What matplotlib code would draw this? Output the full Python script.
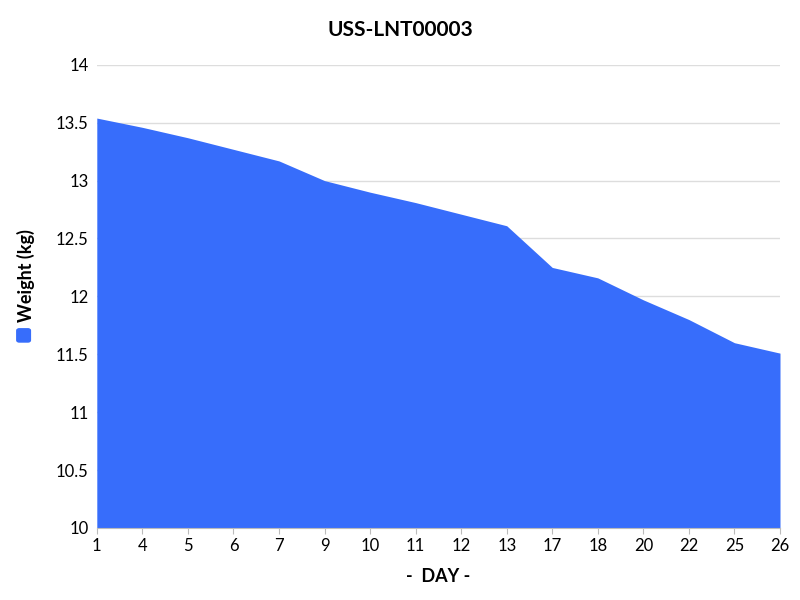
import matplotlib
matplotlib.use("Agg")
import matplotlib.pyplot as plt
from matplotlib.patches import FancyBboxPatch

days = ["1", "4", "5", "6", "7", "9", "10", "11", "12", "13", "17", "18", "20", "22", "25", "26"]
weight = [13.54, 13.46, 13.37, 13.27, 13.17, 13.00, 12.90, 12.81, 12.71, 12.61,
          12.25, 12.16, 11.97, 11.80, 11.60, 11.51]

plt.rcParams['font.family'] = ['Lato', 'DejaVu Sans']
fig = plt.figure(figsize=(8, 6), dpi=100)
ax = fig.add_axes([0.121, 0.12, 0.854, 0.772])

x = list(range(len(days)))
ax.fill_between(x, 10, weight, color="#376DFB", linewidth=0)
ax.set_xlim(0, len(days) - 1)
ax.set_ylim(10, 14)
ax.set_xticks(x)
ax.set_xticklabels(days, fontsize=12)
ax.set_yticks([10, 10.5, 11, 11.5, 12, 12.5, 13, 13.5, 14])
ax.set_yticklabels(["10", "10.5", "11", "11.5", "12", "12.5", "13", "13.5", "14"], fontsize=12)
ax.grid(axis="y", color="#dddddd", linewidth=1)
ax.set_axisbelow(True)
for s in ["top", "right", "left"]:
    ax.spines[s].set_visible(False)
ax.spines["bottom"].set_color("#bbbbbb")
ax.tick_params(axis="y", length=0, pad=6)
ax.tick_params(axis="x", length=4, color="#bbbbbb")

ax.set_xlabel("-  DAY -", fontsize=13, fontweight="bold", labelpad=10)
fig.text(0.5, 0.95, "USS-LNT00003", ha="center", va="center", fontsize=15, fontweight="bold")
fig.text(0.033, 0.54, "Weight (kg)", rotation=90, ha="center", va="center", fontsize=13, fontweight="bold")
fig.patches.append(FancyBboxPatch((0.021, 0.43), 0.017, 0.022, boxstyle="round,pad=0,rounding_size=0.003",
                                  transform=fig.transFigure, color="#376DFB"))

fig.savefig("out.png", dpi=100)
